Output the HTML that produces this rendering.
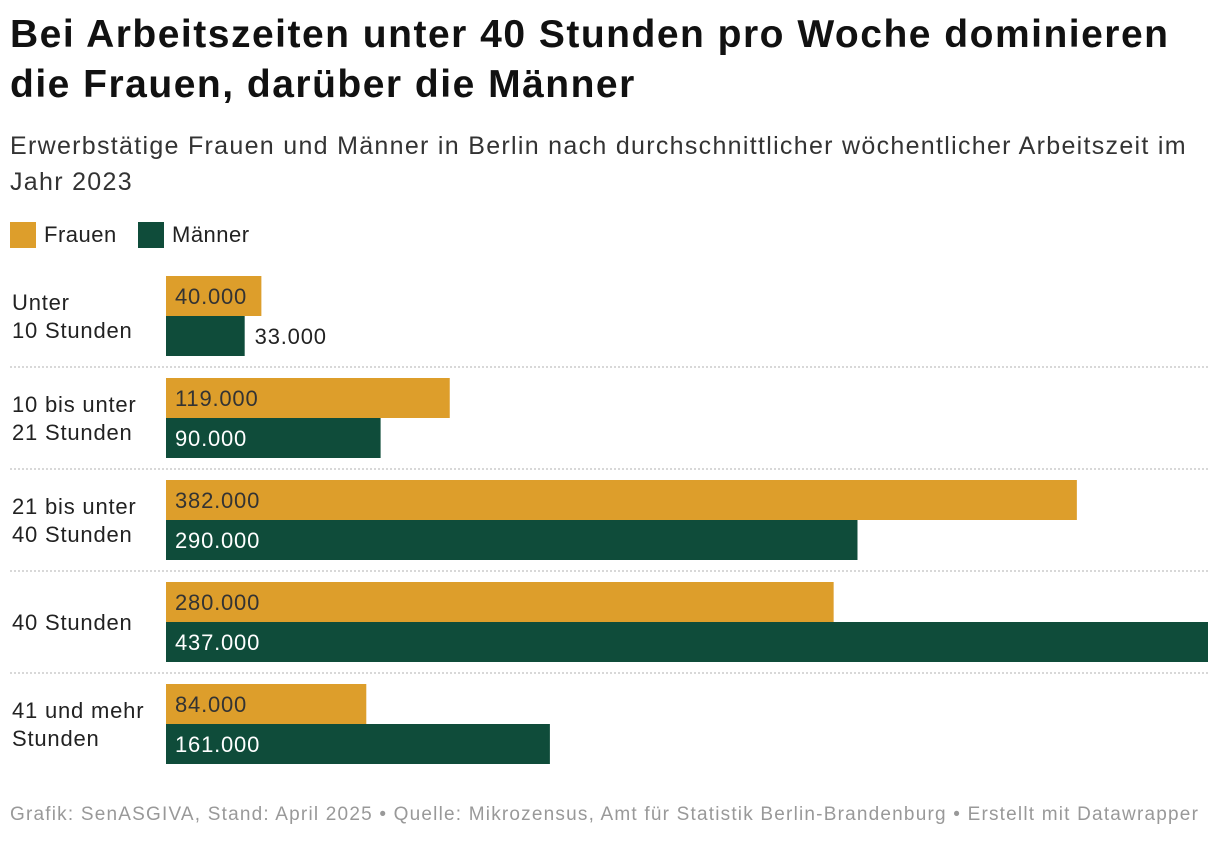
<!DOCTYPE html>
<html><head><meta charset="utf-8">
<style>
body{margin:0;width:1220px;height:842px;background:#fff;font-family:"Liberation Sans",Arial,sans-serif;overflow:hidden;position:relative}
h1{position:absolute;left:10px;top:10px;margin:0;font-size:39px;line-height:50px;font-weight:bold;color:#111;letter-spacing:1.5px;white-space:nowrap}
.sub{position:absolute;left:10px;top:128px;font-size:25px;line-height:36px;color:#333;letter-spacing:1.3px;white-space:nowrap}
.leg{position:absolute;top:222px;font-size:22px;color:#222;display:flex;align-items:center;letter-spacing:0.5px}
.sw{width:26px;height:26px;margin-right:8px}
.foot{position:absolute;left:10px;top:804px;font-size:19px;color:#999;letter-spacing:1.2px;white-space:nowrap}
svg text{letter-spacing:0.8px}
</style></head><body>
<h1>Bei Arbeitszeiten unter 40 Stunden pro Woche dominieren<br>die Frauen, darüber die Männer</h1>
<div class="sub">Erwerbstätige Frauen und Männer in Berlin nach durchschnittlicher wöchentlicher Arbeitszeit im<br>Jahr 2023</div>
<div class="leg" style="left:10px"><div class="sw" style="background:#dd9e2b"></div>Frauen</div>
<div class="leg" style="left:138px"><div class="sw" style="background:#0f4c3a"></div>Männer</div>
<svg id="chart" width="1220" height="842" style="position:absolute;left:0;top:0"></svg>
<div class="foot">Grafik: SenASGIVA, Stand: April 2025 • Quelle: Mikrozensus, Amt für Statistik Berlin-Brandenburg • Erstellt mit Datawrapper</div>
<script>
const categories=[["Unter","10 Stunden"],["10 bis unter","21 Stunden"],["21 bis unter","40 Stunden"],["40 Stunden"],["41 und mehr","Stunden"]];
const frauen=[40000,119000,382000,280000,84000];
const maenner=[33000,90000,290000,437000,161000];
const ns="http://www.w3.org/2000/svg";
const svg=document.getElementById('chart');
const x0=166,x1=1208,maxV=437000;
const xs=v=>(v/maxV)*(x1-x0);
const groupY=i=>276+i*102;
const fmt=v=>v.toLocaleString('de-DE');
function mk(t,a){const e=document.createElementNS(ns,t);for(const k in a)e.setAttribute(k,a[k]);svg.appendChild(e);return e;}
categories.forEach((c,i)=>{
 const y=groupY(i);
 const lab=mk('text',{x:12,y:0,'font-size':22,fill:'#222'});
 
 
 const cy=y+40;
 c.forEach((l,j)=>{const ts=document.createElementNS(ns,'tspan');ts.setAttribute('x',12);ts.setAttribute('y',cy+8+(j-(c.length-1)/2)*28);ts.textContent=l;lab.appendChild(ts);});
 [[frauen,'#dd9e2b','#333','frauen'],[maenner,'#0f4c3a','#fff','maenner']].forEach((s,k)=>{
  const v=s[0][i],w=xs(v),by=y+k*40;
  const r=mk('rect',{x:x0,y:by,width:w,height:40,fill:s[1]});
  
  
  const inside=w>90;
  const t=mk('text',{x:inside?x0+9:x0+w+10,y:by+28,'font-size':22,fill:inside?s[2]:'#222'});
  
  
  t.textContent=fmt(v);
 });
 if(i<categories.length-1){
  const ln=mk('line',{x1:10,x2:1208,y1:y+91,y2:y+91,stroke:'#ccc','stroke-width':1.5,'stroke-dasharray':'2,2'});
  
  
 }
});
</script>
</body></html>
